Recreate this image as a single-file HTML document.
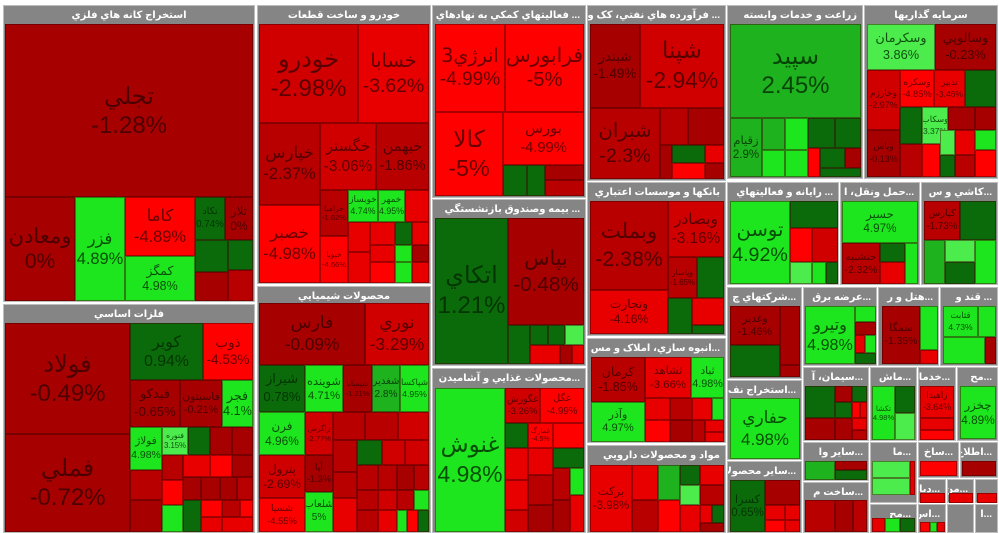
<!DOCTYPE html>
<html><head><meta charset="utf-8">
<style>
html,body{margin:0;padding:0;background:#fff;}
#map{position:relative;width:999px;height:533px;overflow:hidden;background:#fff;font-family:"Liberation Sans","DejaVu Sans",sans-serif;}
.sec{position:absolute;background:#858585;box-sizing:border-box;border:1px solid #bdbdbd;}
.hdr{position:absolute;left:0;right:0;top:0;height:19px;line-height:19px;color:#fff;font-weight:bold;font-size:10px;direction:rtl;white-space:nowrap;overflow:hidden;padding:0 5px;}
.tile{position:absolute;box-sizing:border-box;border:1px solid rgba(60,0,0,0.45);display:flex;flex-direction:column;align-items:center;justify-content:center;overflow:hidden;text-align:center;line-height:1.25;}
</style></head>
<body>
<div id="map"></div>
<script>
// sectors: [x1,y1,x2,y2,title,align]
const sectors = [
 [3,5,255,302,"استخراج کانه هاي فلزي","center"],
 [257,5,431,284,"خودرو و ساخت قطعات","center"],
 [432,5,586,198,"... فعاليتهاي کمکي به نهادهاي","right"],
 [587,5,726,181,"... فرآورده هاي نفتي، کک و","right"],
 [727,5,863,179,"زراعت و خدمات وابسته","right"],
 [864,5,998,179,"سرمايه گذاريها","center"],
 [3,304,255,533,"فلزات اساسي","center"],
 [257,286,431,533,"محصولات شيميايي","center"],
 [432,199,586,366,"... بيمه وصندوق بازنشستگي","right"],
 [432,368,586,533,"...محصولات غذايي و آشاميدن","right"],
 [587,182,726,336,"بانکها و موسسات اعتباري","right"],
 [587,338,726,443,"...انبوه سازي، املاک و مس","right"],
 [587,445,726,533,"مواد و محصولات دارويي","right"],
 [727,182,839,285,"... رايانه و فعاليتهاي","right"],
 [840,182,920,285,"...حمل ونقل، ا","right"],
 [921,182,998,285,"...کاشي و س","right"],
 [727,287,802,379,"...شرکتهاي چ","right"],
 [803,287,877,366,"...عرضه برق","right"],
 [878,287,939,366,"...هتل و ر","right"],
 [940,287,998,366,"... قند و","right"],
 [727,380,802,460,"...استخراج نف","right"],
 [727,461,802,533,"...ساير محصولا","right"],
 [803,367,869,441,"...سيمان، آ","right"],
 [870,367,917,441,"...ماش","right"],
 [918,367,956,441,"...خدما","right"],
 [957,367,998,441,"...مح","right"],
 [803,442,869,481,"...ساير وا","right"],
 [803,482,869,533,"...ساخت م","right"],
 [870,442,917,503,"...ما","right"],
 [870,504,917,533,"...مح","right"],
 [918,442,959,478,"...ساخ","right"],
 [960,442,998,478,"...اطلاع","right"],
 [918,479,946,503,"...دبا","right"],
 [947,479,974,503,"...من","right"],
 [975,479,998,503,"","right"],
 [918,504,946,533,"...اس","right"],
 [947,504,974,533,"","right"],
 [975,504,998,533,"...ا","right"]
];
// tiles: [x1,y1,x2,y2,name,pct]
const tiles = [
 [5,24,253,197,"تجلي",-1.28],[5,197,75,301,"ومعادن",0],[75,197,125,301,"فزر",4.89],
 [125,197,195,256,"کاما",-4.89],[125,256,195,301,"کمگز",4.98],
 [195,197,225,240,"تکاد",0.74],[225,197,253,240,"تلار",0],[195,240,228,272,"",0.87],[228,240,253,270,"",0.7],
 [195,272,228,301,"",-1.1],[228,270,253,301,"",-1.5],
 [259,24,358,123,"خودرو",-2.98],[358,24,429,123,"خسابا",-3.62],
 [259,123,320,205,"خپارس",-2.37],[320,123,376,190,"خگستر",-3.06],[376,123,429,190,"خبهمن",-1.86],
 [259,205,320,283,"خصبر",-4.98],[320,190,348,236,"خراميا",-1.62],[348,190,378,222,"خوبساز",4.74],
 [378,190,405,222,"خمهر",4.95],[405,190,429,222,"",-4.2],[320,236,348,283,"خپويا",-4.66],
 [348,222,370,252,"",-4.1],[348,252,370,283,"",-4.2],[370,222,395,245,"",-4],[370,245,395,262,"",-4.1],
 [370,262,395,283,"",-4.3],[395,222,412,245,"",0.6],[395,245,412,262,"",4.6],[395,262,412,283,"",4.8],
 [412,222,429,245,"",-4.2],[412,245,429,262,"",-1.2],[412,262,429,283,"",-4.1],
 [435,24,505,112,"انرژي3",-4.99],[505,24,584,112,"فرابورس",-5],[435,112,503,196,"کالا",-5],
 [503,112,584,165,"بورس",-4.99],[503,165,527,196,"",0.5],[527,165,545,196,"",0.6],[545,165,584,180,"",-1.4],[545,180,584,196,"",-1.5],
 [590,24,640,108,"شبندر",-1.49],[640,24,724,108,"شپنا",-2.94],[590,108,660,179,"شبران",-2.3],
 [660,108,688,145,"",-1.6],[688,108,724,145,"",-1.4],[660,145,672,179,"",-1.3],[672,145,705,163,"",0.5],
 [705,145,724,163,"",-4.2],[672,163,705,179,"",-4.4],[705,163,724,179,"",-1.2],
 [730,24,861,118,"سپيد",2.45],[730,118,762,177,"زقيام",2.9],[762,118,785,150,"",2.5],[785,118,808,150,"",4.22],
 [808,118,835,148,"",1.1],[835,118,861,148,"",0.9],[762,150,785,177,"",4.5],[785,150,808,177,"",4.3],
 [808,148,820,177,"",-4.5],[820,148,845,168,"",0.8],[845,148,861,168,"",-1.3],[820,168,861,177,"",0.5],
 [867,24,935,70,"وسکرمان",3.86],[935,24,996,70,"وسالوپي",-0.23],[867,70,900,130,"وخارزم",-2.97],
 [900,70,934,107,"وسکره",-4.85],[934,70,965,107,"تدبير",-3.46],[965,70,996,107,"",0.6],
 [900,107,922,144,"",0.9],[922,107,948,144,"وسکاب",3.37],[948,107,975,130,"",-1.2],[975,107,996,130,"",-1.4],
 [867,130,900,177,"وپاس",-0.13],[900,144,922,177,"",-1.5],[922,144,940,177,"",-4.5],[940,130,955,155,"",3.3],
 [955,130,975,155,"",-4.1],[975,130,996,150,"",4.2],[940,155,955,177,"",0.7],[955,155,975,177,"",-1.6],[975,150,996,177,"",-4.3],
 [5,323,130,434,"فولاد",-0.49],[5,434,130,532,"فملي",-0.72],[130,323,203,380,"کوير",0.94],[203,323,253,380,"ذوب",-4.53],
 [130,380,180,427,"فبدکو",-0.65],[180,380,222,427,"فاسيتون",-0.21],[222,380,253,427,"فجر",4.1],
 [130,427,162,470,"فولاژ",4.98],[162,427,188,455,"فنوره",3.15],[188,427,210,455,"",0.9],[210,427,232,455,"",-1.3],[232,427,253,455,"",-1.2],
 [130,470,162,500,"",-1.5],[130,500,162,532,"",-0.7],[162,455,183,480,"",-1.5],[162,480,183,505,"",-4.5],[162,505,183,532,"",4.5],
 [183,455,210,477,"",-4.2],[210,455,232,477,"",-4.3],[232,455,253,477,"",-1.3],[183,477,201,500,"",-1.4],[201,477,220,500,"",-1.2],
 [220,477,237,500,"",-1.3],[237,477,253,500,"",-1.5],[183,500,201,532,"",0.6],[201,500,222,517,"",-4.3],[222,500,240,517,"",-1.6],
 [240,500,253,517,"",-4.5],[201,517,222,532,"",-4.2],[222,517,253,532,"",-4.1],
 [259,303,365,365,"فارس",-0.09],[365,303,429,365,"نوري",-3.29],[259,365,305,412,"شيراز",0.78],
 [305,365,343,412,"شوينده",4.71],[343,365,372,412,"شيمبانا",-1.21],[372,365,400,412,"شغدير",2.8],[400,365,429,412,"شپاکسا",4.95],
 [259,412,305,455,"فرن",4.96],[305,412,333,455,"زاگرس",-2.77],[333,412,365,440,"",-2.5],[365,412,398,440,"",-1.5],[398,412,429,440,"",-3.2],
 [259,455,305,498,"پترول",-2.69],[259,498,305,532,"شسپا",-4.55],[305,455,333,492,"آپا",-1.3],[305,492,333,532,"شلعاب",5],
 [333,440,357,472,"",-2.4],[357,440,382,465,"",0.5],[382,440,405,465,"",-2.6],[405,440,429,465,"",-3.1],
 [333,472,357,498,"",-1.6],[333,498,357,532,"",-4.1],[357,465,378,490,"",-1.7],[378,465,397,490,"",-2.3],[397,465,414,490,"",-1.4],
 [414,465,429,490,"",-1.8],[357,490,378,510,"",-1.6],[378,490,397,510,"",-3.1],[397,490,414,510,"",-2.2],[414,490,429,510,"",4.5],
 [357,510,378,532,"",-1.5],[378,510,397,532,"",-4.2],[397,510,407,532,"",4.6],[407,510,418,532,"",-4.3],[418,510,429,532,"",0.7],
 [435,218,508,364,"اتکاي",1.21],[508,218,584,325,"بپاس",-0.48],[508,325,530,364,"",0.8],[530,325,548,345,"",0.9],
 [548,325,565,345,"",0.7],[565,325,584,345,"",3.5],[530,345,560,364,"",-4.2],[560,345,572,364,"",-1.4],[572,345,584,364,"",-4.1],
 [435,388,505,532,"غنوش",4.98],[505,388,540,423,"غگورش",-3.26],[540,388,584,423,"غگل",-4.99],
 [505,423,528,448,"",0.9],[528,423,553,448,"غمارگ",-4.5],[553,423,584,448,"",-4.3],[505,448,528,480,"",-4.1],
 [528,448,553,475,"",-3.9],[553,448,584,468,"",0.8],[505,480,528,510,"",-4.2],[505,510,528,532,"",-3.2],
 [528,475,553,505,"",-1.6],[528,505,553,532,"",-1.4],[553,468,570,500,"",-1.5],[570,468,584,495,"",4.5],[570,495,584,532,"",-4.2],[553,500,570,532,"",-1.3],
 [590,201,668,290,"وبملت",-2.38],[668,201,724,257,"وبصادر",-3.16],[668,257,697,298,"وپاسار",-1.65],[697,257,724,298,"",0.55],
 [590,290,668,334,"وتجارت",-4.16],[668,298,692,334,"",0.71],[692,298,724,325,"",-3.5],[692,325,724,334,"",0.5],
 [591,357,645,402,"کرمان",-1.85],[645,357,691,398,"ثشاهد",-3.66],[691,357,724,398,"ثباد",4.98],[591,402,645,442,"وآذر",4.97],
 [645,398,670,420,"",-4.2],[670,398,692,420,"",-1.5],[692,398,712,420,"",-4.1],[712,398,724,420,"",4.6],
 [645,420,670,442,"",-4.3],[670,420,692,442,"",-1.4],[692,420,705,442,"",-1.6],[705,420,724,432,"",-4.2],[705,432,724,442,"",-4.1],
 [590,465,632,532,"برکت",-3.98],[632,465,658,500,"",-4.1],[658,465,680,500,"",2.36],[680,465,700,485,"",0.7],
 [680,485,700,505,"",3.6],[700,465,724,485,"",-4.1],[700,485,724,505,"",-1.5],[632,500,658,532,"",-1.6],[658,500,680,532,"",-4.3],
 [680,505,700,532,"",-4.1],[700,505,712,523,"",-4.2],[712,505,724,523,"",0.6],[700,523,724,532,"",-1.4],
 [730,201,790,284,"توسن",4.92],[790,201,838,228,"",0.8],[790,228,812,262,"",-4.5],[812,228,838,262,"",-3.3],
 [790,262,812,284,"",3.8],[812,262,826,284,"",4.1],[826,262,838,284,"",0.7],
 [842,201,918,243,"حسير",4.97],[842,243,880,284,"حتشنيه",-2.32],[880,243,905,262,"",1.2],[880,262,905,284,"",-4.2],[905,243,918,284,"",4.4],
 [924,201,960,240,"کپارس",-1.73],[960,201,996,240,"",0.3],[924,240,945,284,"",1.65],[945,240,975,262,"",3.47],[945,262,975,284,"",0.6],[975,240,996,284,"",4.5],
 [730,306,780,345,"وغدير",-1.46],[780,306,800,365,"",0],[730,345,780,377,"",0.4],[780,365,800,377,"",-1.2],
 [805,306,855,364,"وتيرو",4.98],[855,306,876,322,"",4.5],[855,322,876,335,"",-1.3],[855,335,865,353,"",-4.2],[865,335,876,353,"",4.3],[855,353,876,364,"",0.6],
 [882,306,920,364,"سمگا",-1.35],[920,306,938,350,"",4.93],[920,350,938,364,"",-4.1],
 [943,306,978,337,"قثابت",4.73],[978,306,996,337,"",4.93],[943,337,985,364,"",4.93],[985,337,996,364,"",-1.3],
 [730,398,800,459,"حفاري",4.98],
 [730,480,765,532,"کسرا",0.65],[765,480,800,505,"",-1.3],[765,505,785,520,"",-4.1],[785,505,800,520,"",-3.5],[765,520,785,532,"",-4.3],[785,520,800,532,"",-4.2],
 [805,386,835,418,"",0.7],[835,386,852,402,"",-1.4],[852,386,867,402,"",0.8],[835,402,852,418,"",0.6],[852,402,860,418,"",-4.3],[860,402,867,418,"",-4.1],
 [805,418,835,440,"",-1.3],[835,418,852,440,"",-1.4],[852,418,867,430,"",-4.2],[852,430,867,440,"",-1.5],
 [872,386,895,440,"تکشا",4.98],[895,386,915,413,"",0.9],[895,413,915,440,"",3.6],
 [920,386,954,418,"زاهيدا",-3.64],[920,418,954,430,"",-4.2],[920,430,954,440,"",-4.3],
 [960,386,996,439,"چخزر",4.89],
 [805,461,835,480,"واکار",2.84],[835,461,867,470,"",-1.4],[835,470,867,480,"",0.7],
 [805,500,835,532,"",-1.5],[835,500,853,532,"",-1.4],[853,500,867,532,"",-1.6],
 [872,461,910,478,"",3.98],[872,478,910,495,"",3.5],[910,461,915,495,"",-4.1],
 [872,518,885,532,"",-4.2],[885,518,900,532,"",4.6],[900,518,915,532,"",0.7],
 [920,461,957,476,"",-4.3],[962,461,996,476,"",-1.19],
 [920,493,945,503,"",-4.2],[949,493,973,503,"",-4.1],[977,493,997,503,"",-4.2],
 [920,522,930,532,"",-4.3],[930,522,937,532,"",4.5],[937,522,945,532,"",-4.1]
];
function color(p){
  if(p>=4) return "#1ee61e";
  if(p>=3) return "#4bec4b";
  if(p>=1.5) return "#1fb21f";
  if(p>0) return "#0b6b0b";
  if(p>-1.5) return "#a60000";
  if(p>-2.6) return "#b80000";
  if(p>-3.4) return "#d10000";
  if(p>-4.3) return "#e80000";
  return "#ff0000";
}
const map=document.getElementById('map');
sectors.forEach(s=>{
  const d=document.createElement('div');
  d.className='sec';
  
  
  d.style.left=s[0]+'px';d.style.top=s[1]+'px';d.style.width=(s[2]-s[0])+'px';d.style.height=(s[3]-s[1])+'px';
  const h=document.createElement('div');
  h.className='hdr';
  
  
  h.style.textAlign=s[5];
  h.textContent=s[4];
  d.appendChild(h);
  map.appendChild(d);
});
tiles.forEach(t=>{
  let [x1,y1,x2,y2,name,p]=t;
  const w=x2-x1,h=y2-y1;
  const d=document.createElement('div');
  d.className='tile';
  
  
  d.style.left=x1+'px';d.style.top=y1+'px';d.style.width=w+'px';d.style.height=h+'px';
  d.style.background=color(p);
  const pt=(Math.round(p*100)/100)+'%';
  let fs=Math.min(w*0.9/Math.max(pt.length*0.55,name.length*0.5),h/3.6,24);
  if(name && fs>=6){
    d.style.fontSize=fs.toFixed(1)+'px';
    d.style.color=p>0?'rgba(0,40,0,0.8)':'rgba(40,0,0,0.7)';
    const a=document.createElement('div');a.textContent=name;
    
    
    a.style.fontFamily='"DejaVu Sans","Noto Sans CJK SC",sans-serif';
    const b=document.createElement('div');b.textContent=pt;
    
    
    d.appendChild(a);d.appendChild(b);
  }
  map.appendChild(d);
});
</script>
</body></html>
